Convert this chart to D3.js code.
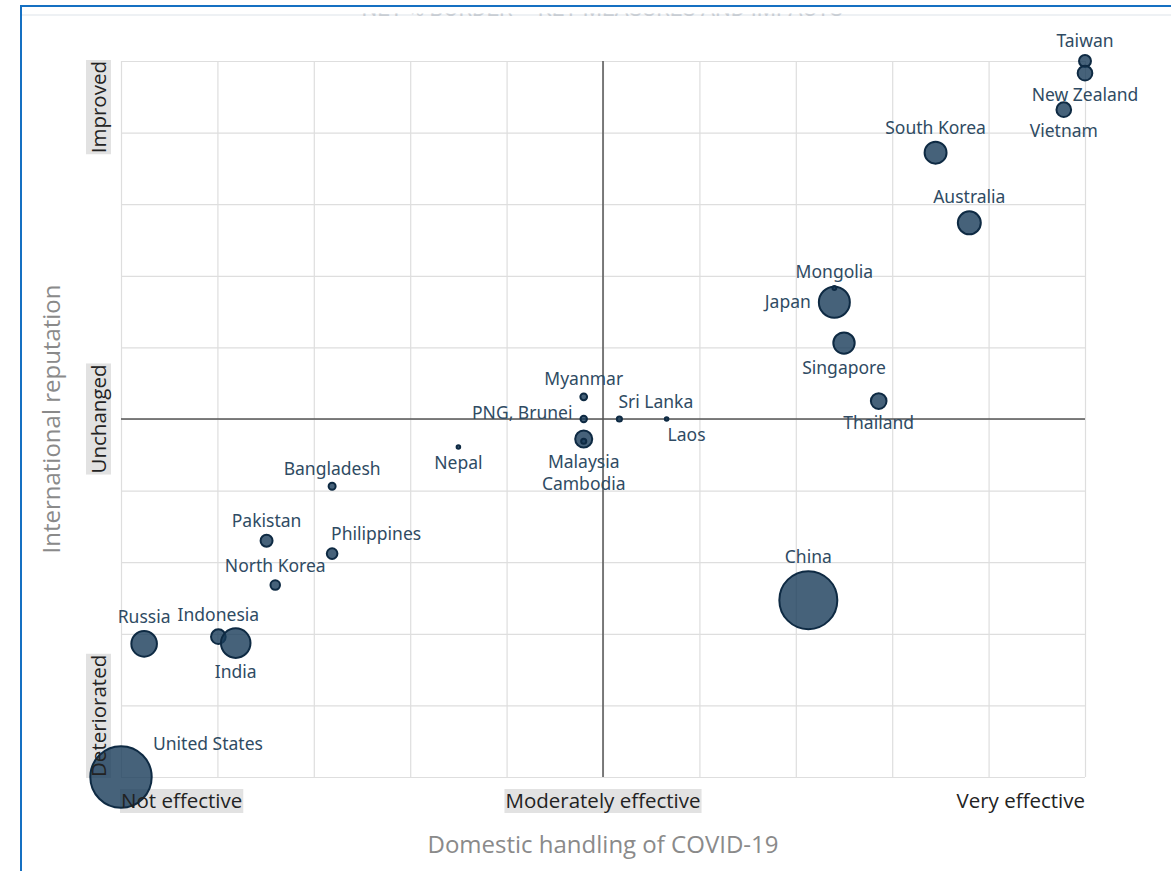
<!DOCTYPE html>
<html>
  <head>
    <meta charset="utf-8" />
    <title>COVID-19 handling vs reputation</title>
    <script src="https://d3js.org/d3.v7.min.js"></script>
    <style>
      body { margin: 0; background: #fff; }
      .grid line { stroke: #dedede; stroke-width: 1.2px; }
      .grid .domain { display: none; }
      .centre { stroke: #555; stroke-width: 1.5px; }
      .bubble { fill: #183b59; fill-opacity: 0.8; stroke: #0e2a43; stroke-width: 2px; }
      .plabel { font: 17.5px "Noto Sans", sans-serif; fill: #2f4b63; }
      .tick-label { font: 20.5px "Open Sans", sans-serif; fill: #222; }
      .axis-title { font: 24px "Open Sans", sans-serif; fill: #8a8a8a; }
    </style>
  </head>
  <body>
    <div id="chart"></div>

    <script>
      // Data (scale 0-10 on both axes)
      const countries = ["Taiwan", "New Zealand", "Vietnam", "South Korea", "Australia", "Japan", "Mongolia",
        "Singapore", "Thailand", "Myanmar", "PNG, Brunei", "Sri Lanka", "Laos", "Malaysia", "Cambodia",
        "Nepal", "Bangladesh", "Pakistan", "Philippines", "North Korea", "Russia", "Indonesia", "India",
        "China", "United States"];
      const handling = [10, 10, 9.78, 8.45, 8.8, 7.4, 7.4,
        7.5, 7.86, 4.8, 4.8, 5.17, 5.66, 4.8, 4.8,
        3.5, 2.19, 1.51, 2.19, 1.6, 0.24, 1.01, 1.19,
        7.13, 0];
      const reputation = [10, 9.83, 9.32, 8.72, 7.74, 6.63, 6.83,
        6.06, 5.25, 5.31, 5.0, 5.0, 5.0, 4.72, 4.69,
        4.61, 4.06, 3.3, 3.12, 2.68, 1.86, 1.96, 1.87,
        2.47, 0];
      const weight = [3.8, 5.7, 5.7, 12.8, 14, 25.5, 0.4,
        12.1, 6.5, 1.2, 1.1, 0.7, 0.34, 7.7, 0.7,
        0.34, 1.3, 3.8, 3.0, 2.4, 17.4, 5.7, 23.2,
        89.2, 100];

      const xTicks = ["Not effective", "Moderately effective", "Very effective"];
      const yTicks = ["Deteriorated", "Unchanged", "Improved"];

      // where each label sits relative to its bubble
      const placement = {
        "Japan": "left", "PNG, Brunei": "left", "Sri Lanka": "topright", "Philippines": "topright",
        "New Zealand": "bottom", "Vietnam": "bottom", "Singapore": "bottom", "Thailand": "bottom",
        "Laos": "bottomright", "Malaysia": "bottom", "Cambodia": "below2", "Nepal": "bottom",
        "India": "bottom", "United States": "us"
      };

      const W = 1171, H = 871;
      const svg = d3.select("#chart").append("svg").attr("width", W).attr("height", H);

      // screenshot frame + cut-off title (only a sliver shows)
      svg.append("line").attr("x1", 21).attr("x2", W).attr("y1", 15).attr("y2", 15)
        .attr("stroke", "#eef1f4").attr("stroke-width", 2);
      const sliver = svg.append("svg").attr("x", 0).attr("y", 13.5).attr("width", W).attr("height", 3);
      sliver.append("text")
        .attr("x", 602).attr("y", 2.5).attr("text-anchor", "middle")
        .attr("fill", "#c9ced4").style("font", "22px Roboto, sans-serif")
        .text("NET % BORDER – KEY MEASURES AND IMPACTS");
      svg.append("rect").attr("x", 20).attr("y", 5).attr("width", W).attr("height", 2).attr("fill", "#1570c2");
      svg.append("rect").attr("x", 20).attr("y", 5).attr("width", 2).attr("height", H).attr("fill", "#1570c2");

      const x = d3.scaleLinear().domain([0, 10]).range([121, 1085]);
      const y = d3.scaleLinear().domain([0, 10]).range([777, 61]);
      const r = d3.scaleSqrt().domain([0, 100]).range([0, 30.7]);

      // grid
      svg.append("g").attr("class", "grid").attr("transform", "translate(0,777)")
        .call(d3.axisBottom(x).tickValues(d3.range(0, 11)).tickSize(-(777 - 61)).tickFormat(""));
      svg.append("g").attr("class", "grid").attr("transform", "translate(121,0)")
        .call(d3.axisLeft(y).tickValues(d3.range(0, 11)).tickSize(-(1085 - 121)).tickFormat(""));
      svg.append("line").attr("class", "centre").attr("x1", x(5)).attr("x2", x(5)).attr("y1", y(0)).attr("y2", y(10));
      svg.append("line").attr("class", "centre").attr("x1", x(0)).attr("x2", x(10)).attr("y1", y(5)).attr("y2", y(5));

      const bgX = svg.append("g");
      const bgY = svg.append("g");
      const txX = xTicks.map((t, i) => ({
        t, v: i * 5, anchor: i === 0 ? "start" : i === 1 ? "middle" : "end", bg: i < 2
      }));

      const bubbles = countries.map((c, i) => ({
        name: c, hx: handling[i], ry: reputation[i], w: weight[i]
      }));

      svg.append("g").selectAll("circle").data(bubbles).enter().append("circle")
        .attr("class", "bubble")
        .attr("cx", d => x(d.hx))
        .attr("cy", d => y(d.ry))
        .attr("r", d => r(d.w));

      // x tick text + background
      const xTxt = svg.append("g").selectAll("text").data(txX).enter().append("text")
        .attr("class", "tick-label")
        .attr("x", d => x(d.v)).attr("y", 808)
        .attr("text-anchor", d => d.anchor)
        .text(d => d.t);
      xTxt.each(function (d) {
        if (!d.bg) return;
        const b = this.getBBox();
        bgX.append("rect").attr("x", b.x - 1).attr("y", 789).attr("width", b.width + 2).attr("height", 24)
          .attr("fill", "#e2e2e2");
      });

      // y tick text + background (rotated)
      const yTxt = svg.append("g").selectAll("text").data(yTicks).enter().append("text")
        .attr("class", "tick-label")
        .attr("transform", (d, i) => `translate(106,${y(i * 5)}) rotate(-90)`)
        .attr("text-anchor", (d, i) => i === 0 ? "start" : i === 1 ? "middle" : "end")
        .text(d => d);
      yTxt.each(function (d, i) {
        const b = this.getBBox();
        const y0 = y(i * 5) - (b.x + b.width);
        bgY.append("rect").attr("x", 86).attr("y", y0 - 1).attr("width", 25).attr("height", b.width + 2)
          .attr("fill", "#e2e2e2");
      });

      // bubble labels
      svg.append("g").selectAll("text").data(bubbles).enter().append("text")
        .attr("class", "plabel")
        .each(function (d) {
          const cx = x(d.hx), cy = y(d.ry), rr = r(d.w);
          const p = placement[d.name] || "top";
          let tx = cx, ty = cy - rr - 8, anchor = "middle";
          if (p === "bottom") ty = cy + rr + 20;
          if (p === "left") { tx = cx - rr - 8; ty = cy + 6; anchor = "end"; }
          if (d.name === "PNG, Brunei") ty = cy;
          if (p === "topright") { tx = cx - 1; anchor = "start"; }
          if (p === "bottomright") { tx = cx + 1; ty = cy + rr + 20; anchor = "start"; }
          if (p === "below2") ty = cy + 49;
          if (p === "us") { tx = cx + 32; ty = cy - 27; anchor = "start"; }
          d3.select(this).attr("x", tx).attr("y", ty).attr("text-anchor", anchor);
        })
        .text(d => d.name);

      // axis titles
      svg.append("text").attr("class", "axis-title")
        .attr("x", x(5)).attr("y", 853).attr("text-anchor", "middle")
        .text("Domestic handling of COVID-19");
      svg.append("text").attr("class", "axis-title")
        .attr("transform", `translate(60,${y(5)}) rotate(-90)`).attr("text-anchor", "middle")
        .text("International reputation");
    </script>
  </body>
</html>
